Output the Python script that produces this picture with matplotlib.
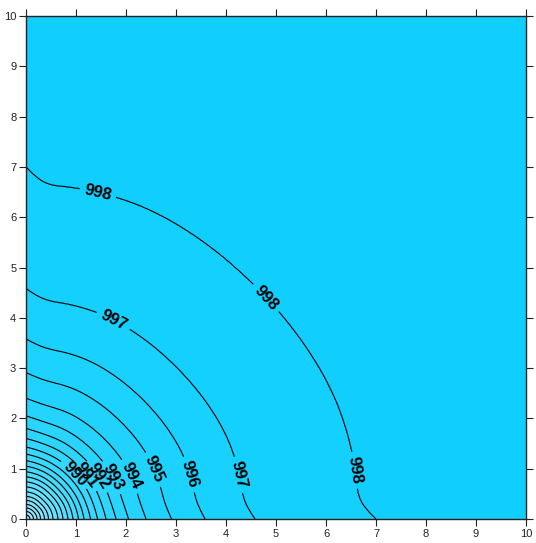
import numpy as np
import matplotlib
matplotlib.use("Agg")
import matplotlib.pyplot as plt
from matplotlib.colors import LinearSegmentedColormap

# Contour levels and the radius (from the origin, along either axis) where each crosses
levels_z = [975, 976, 977, 978, 979, 980, 981, 982, 983, 984, 985, 986, 987,
            988, 989, 990, 991, 992, 993, 994, 995, 996, 997, 998, 999]
axis_radius = [0.00, 0.08, 0.15, 0.22, 0.29, 0.37, 0.45, 0.54, 0.64, 0.74, 0.84,
               0.94, 1.05, 1.16, 1.29, 1.43, 1.60, 1.80, 2.05, 2.40, 2.91, 3.58,
               4.58, 7.00, 14.0]

# Contour shrink factor by direction (degrees from the nearest axis)
shape_angle = [0, 10, 15, 20, 25, 30, 35, 40, 45]
shape_factor = [0.95, 0.95, 0.949, 0.947, 0.943, 0.938, 0.934, 0.931, 0.930]
# Extra stretch right next to the axes (distance from the nearest axis)
edge_dist = [0.0, 0.1, 0.2, 0.3, 0.4, 0.5, 0.6]
edge_factor = [1.0526, 1.037, 1.024, 1.013, 1.006, 1.002, 1.0]

line_levels = list(range(976, 999))
label_pos = {
    998: [(1.48, 6.64), (4.84, 4.43), (6.58, 0.97)],
    997: [(1.74, 3.92), (4.24, 0.87)],
    996: [(3.20, 0.87)],
    995: [(2.52, 0.97)],
    994: [(2.04, 0.82)],
    993: [(1.68, 0.80)],
    992: [(1.41, 0.83)],
    991: [(1.21, 0.87)],
    990: [(0.91, 0.83)],
}

x = np.linspace(0, 10, 501)
y = np.linspace(0, 10, 501)
X, Y = np.meshgrid(x, y)
R = np.hypot(X, Y)
ang = np.degrees(np.arctan2(np.minimum(X, Y), np.maximum(X, Y)))
dist = np.minimum(X, Y)
g = np.interp(ang, shape_angle, shape_factor) * np.interp(dist, edge_dist, edge_factor)
Z = np.interp(R / g, axis_radius, levels_z)

fig = plt.figure(figsize=(5.36, 5.43), dpi=100)
ax = fig.add_axes([26 / 536, 24 / 543, 500 / 536, 503 / 543])

cmap = LinearSegmentedColormap.from_list("cyan", ["#A6EEFF", "#3FDBFF", "#0ECFFF"])
fill_levels = list(range(975, 1000))
ax.contourf(X, Y, Z, levels=fill_levels + [1000], cmap=cmap, vmin=975, vmax=999)

plain = [lv for lv in line_levels if lv not in label_pos]
ax.contour(X, Y, Z, levels=plain, colors="black", linewidths=0.8)

for lvl, pts in label_pos.items():
    cs = ax.contour(X, Y, Z, levels=[lvl], colors="black", linewidths=0.8)
    texts = ax.clabel(cs, manual=pts, inline=True, inline_spacing=3,
                      fmt="%d", fontsize=12)
    for t in texts:
        t.set_fontfamily("Liberation Sans")
        t.set_fontweight("bold")
        t.set_color("black")

ax.set_xlim(0, 10)
ax.set_ylim(0, 10)
ax.set_xticks(range(0, 11))
ax.set_yticks(range(0, 11))
ax.tick_params(axis="both", which="both", direction="out", length=5, width=0.8,
               top=True, right=True, labeltop=False, labelright=False,
               labelsize=8, colors="#222222", pad=2)
for lab in ax.get_xticklabels() + ax.get_yticklabels():
    lab.set_fontfamily("Liberation Sans")
for sp in ax.spines.values():
    sp.set_linewidth(1.0)
    sp.set_color("#222222")

fig.savefig("out.png", dpi=100)
